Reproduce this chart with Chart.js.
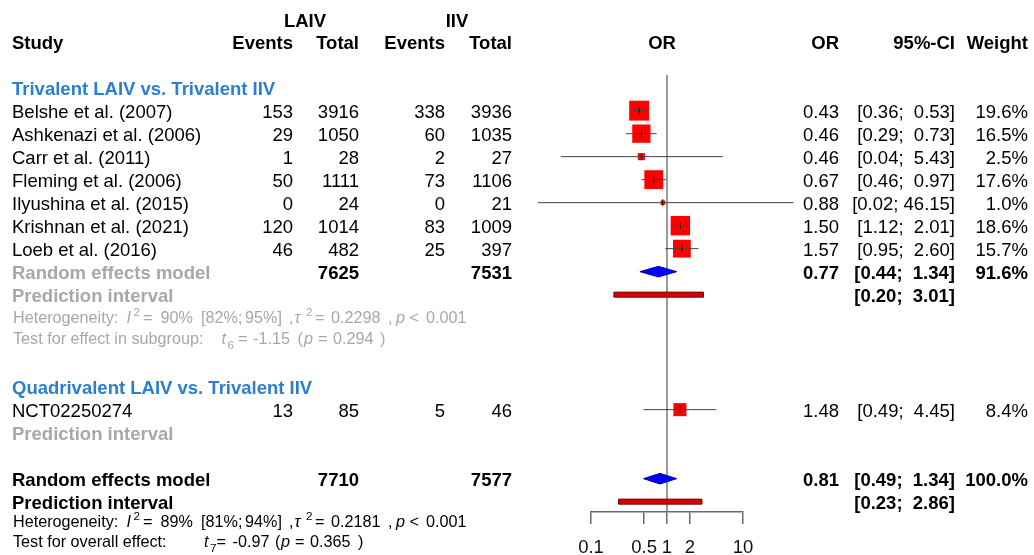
<!DOCTYPE html>
<html>
<head>
<meta charset="utf-8">
<script src="https://cdn.jsdelivr.net/npm/chart.js@4.4.1/dist/chart.umd.min.js"></script>
<style>
  html, body { margin: 0; padding: 0; background: #fff; }
  #c { display: block; }
</style>
</head>
<body>
<canvas id="c" width="1034" height="555"></canvas>
<script>
// ---- study-level data (odds ratio, 95% CI, random-effects weight) ----
const studies    = ['Belshe et al. (2007)', 'Ashkenazi et al. (2006)', 'Carr et al. (2011)', 'Fleming et al. (2006)',
                    'Ilyushina et al. (2015)', 'Krishnan et al. (2021)', 'Loeb et al. (2016)', 'NCT02250274'];
const studyRows  = [0, 1, 2, 3, 4, 5, 6, 13];
const laivEvents = [153, 29, 1, 50, 0, 120, 46, 13];
const laivTotal  = [3916, 1050, 28, 1111, 24, 1014, 482, 85];
const iivEvents  = [338, 60, 2, 73, 0, 83, 25, 5];
const iivTotal   = [3936, 1035, 27, 1106, 21, 1009, 397, 46];
const orValue    = [0.43, 0.46, 0.46, 0.67, 0.88, 1.50, 1.57, 1.48];
const ciLower    = [0.36, 0.29, 0.04, 0.46, 0.02, 1.12, 0.95, 0.49];
const ciUpper    = [0.53, 0.73, 5.43, 0.97, 46.15, 2.01, 2.60, 4.45];
const weights    = [19.6, 16.5, 2.5, 17.6, 1.0, 18.6, 15.7, 8.4];

// ---- subgroups ----
const subgroupNames = ['Trivalent LAIV vs. Trivalent IIV', 'Quadrivalent LAIV vs. Trivalent IIV'];
const subgroupRows  = [-1, 12];

// ---- pooled random-effects estimates (subgroup 1, overall) ----
const pooledRows      = [7, 16];
const pooledOR        = [0.77, 0.81];
const pooledLower     = [0.44, 0.49];
const pooledUpper     = [1.34, 1.34];
const pooledWeight    = [91.6, 100.0];
const pooledLaivTotal = [7625, 7710];
const pooledIivTotal  = [7531, 7577];

// ---- prediction intervals ----
const predRows  = [8, 17];
const predLower = [0.20, 0.23];
const predUpper = [3.01, 2.86];

// ---- heterogeneity and test statistics (subgroup 1, overall) ----
const hetI2     = ['90%', '89%'];
const hetI2CI   = [['82%', '95%'], ['81%', '94%']];
const hetTau2   = ['0.2298', '0.2181'];
const hetP      = ['0.001', '0.001'];
const testDf    = ['6', '7'];
const testT     = ['-1.15', '-0.97'];
const testP     = ['0.294', '0.365'];

// ---- axis ----
const axisTicks      = [0.1, 0.5, 1, 2, 10];
const axisTickLabels = ['0.1', '0.5', '1', '2', '10'];

// ---- styling ----
const FONT = '"Liberation Sans", Arial, Helvetica, sans-serif';
const FS = 18.5, FS_SMALL = 16.2;
const BLUE = '#2a7fd0', GRAY = '#a8a8a8', BLACK = '#000';
const COL = { study: 12, laivEv: 293, laivTot: 359, iivEv: 445, iivTot: 512,
              plotHead: 662, or: 839, ci: 955, wt: 1028 };
const Y_TOP = -1.55, Y_BOTTOM = 17.45;

const fmt2 = v => v.toFixed(2);
const ciText = (lo, hi) => '[' + fmt2(lo) + '; ' + fmt2(hi).padStart(5, ' ') + ']';

// ---- datasets ----
const datasets = [];

// point-estimate ticks inside the squares
datasets.push({
  type: 'scatter', order: 0,
  data: studyRows.map((r, i) => ({ x: orValue[i], y: r })),
  pointStyle: 'line', rotation: 90, pointRadius: 3.5,
  borderColor: '#111', borderWidth: 1
});

// confidence-interval whiskers
const ciData = [];
studyRows.forEach((r, i) => {
  ciData.push({ x: ciLower[i], y: r }, { x: ciUpper[i], y: r }, { x: null, y: null });
});
datasets.push({
  type: 'line', order: 1, data: ciData, showLine: true, spanGaps: false,
  borderColor: '#444', borderWidth: 1, pointRadius: 0, clip: false
});

// weight-scaled squares
datasets.push({
  type: 'scatter', order: 2,
  data: studyRows.map((r, i) => ({ x: orValue[i], y: r })),
  pointStyle: 'rect',
  pointRadius: weights.map(w => 4.5 * Math.sqrt(w) / Math.SQRT2),
  backgroundColor: '#ff0000', borderWidth: 0
});

// pooled-effect diamonds
pooledRows.forEach((r, i) => {
  datasets.push({
    type: 'line', order: 3,
    data: [
      { x: pooledLower[i], y: r }, { x: pooledOR[i], y: r - 0.23 },
      { x: pooledUpper[i], y: r }, { x: pooledOR[i], y: r + 0.23 },
      { x: pooledLower[i], y: r }
    ],
    fill: 'shape', backgroundColor: '#0000ff', borderColor: '#0000a8',
    borderWidth: 1, pointRadius: 0, tension: 0
  });
});

// prediction-interval bars
predRows.forEach((r, i) => {
  datasets.push({
    type: 'line', order: 3,
    data: [
      { x: predLower[i], y: r - 0.11 }, { x: predUpper[i], y: r - 0.11 },
      { x: predUpper[i], y: r + 0.11 }, { x: predLower[i], y: r + 0.11 },
      { x: predLower[i], y: r - 0.11 }
    ],
    fill: 'shape', backgroundColor: '#d80000', borderColor: '#6e1010',
    borderWidth: 1, pointRadius: 0, tension: 0
  });
});

// line of no effect (OR = 1)
datasets.push({
  type: 'line', order: 5,
  data: [{ x: 1, y: Y_TOP }, { x: 1, y: Y_BOTTOM }],
  borderColor: '#7a7a7a', borderWidth: 1.5, pointRadius: 0, clip: false
});

// ---- table text drawn around the plot ----
function txt(ctx, s, x, y, align, weight, size, color) {
  ctx.font = (weight || 'normal') + ' ' + size + 'px ' + FONT;
  ctx.textAlign = align;
  ctx.fillStyle = color;
  ctx.fillText(s, x, y);
}
// rich text: runs placed at given x, with optional italic / super / subscript
function runs(ctx, y, list, size, color) {
  let cx = 0;
  list.forEach(r => {
    if (r.x !== undefined) cx = r.x;
    const fs = (r.sup || r.sub) ? size * 0.72 : size;
    const dy = r.sup ? -size * 0.42 : (r.sub ? size * 0.3 : 0);
    ctx.font = (r.it ? 'italic ' : '') + fs + 'px ' + FONT;
    ctx.textAlign = 'left';
    ctx.fillStyle = color;
    ctx.fillText(r.t, cx, y + dy);
    cx += ctx.measureText(r.t).width;
  });
}
function hetRuns(k) {
  return [
    { t: 'Heterogeneity:', x: 13 }, { t: 'I', it: true, x: 126.5 }, { t: '2', sup: true, x: 133.5 },
    { t: '=', x: 143 }, { t: hetI2[k], x: 160.5 }, { t: '[' + hetI2CI[k][0] + ';', x: 201 },
    { t: hetI2CI[k][1] + ']', x: 245 }, { t: ',', x: 289 }, { t: 'τ', it: true, x: 294.5 },
    { t: '2', sup: true, x: 306 }, { t: '=', x: 315 }, { t: hetTau2[k], x: 331 },
    { t: ',', x: 388 }, { t: 'p', it: true, x: 396 }, { t: '<', x: 409.5 }, { t: hetP[k], x: 426 }
  ];
}

const tablePlugin = {
  id: 'forestTable',
  afterDraw(chart) {
    const ctx = chart.ctx;
    const ys = chart.scales.y;
    const base = row => ys.getPixelForValue(row) + 7;         // baseline for body text
    const baseS = row => ys.getPixelForValue(row) + 5.5;      // baseline for small text
    ctx.save();
    ctx.textBaseline = 'alphabetic';

    // column headers
    txt(ctx, 'LAIV', 305, base(-3.95), 'center', 'bold', FS, BLACK);
    txt(ctx, 'IIV', 457, base(-3.95), 'center', 'bold', FS, BLACK);
    const h = base(-3);
    txt(ctx, 'Study', COL.study, h, 'left', 'bold', FS, BLACK);
    txt(ctx, 'Events', COL.laivEv, h, 'right', 'bold', FS, BLACK);
    txt(ctx, 'Total', COL.laivTot, h, 'right', 'bold', FS, BLACK);
    txt(ctx, 'Events', COL.iivEv, h, 'right', 'bold', FS, BLACK);
    txt(ctx, 'Total', COL.iivTot, h, 'right', 'bold', FS, BLACK);
    txt(ctx, 'OR', COL.plotHead, h, 'center', 'bold', FS, BLACK);
    txt(ctx, 'OR', COL.or, h, 'right', 'bold', FS, BLACK);
    txt(ctx, '95%-CI', COL.ci, h, 'right', 'bold', FS, BLACK);
    txt(ctx, 'Weight', COL.wt, h, 'right', 'bold', FS, BLACK);

    // subgroup titles
    subgroupNames.forEach((s, i) => txt(ctx, s, COL.study, base(subgroupRows[i]), 'left', 'bold', FS, BLUE));

    // study rows
    studies.forEach((s, i) => {
      const y = base(studyRows[i]);
      txt(ctx, s, COL.study, y, 'left', 'normal', FS, BLACK);
      txt(ctx, String(laivEvents[i]), COL.laivEv, y, 'right', 'normal', FS, BLACK);
      txt(ctx, String(laivTotal[i]), COL.laivTot, y, 'right', 'normal', FS, BLACK);
      txt(ctx, String(iivEvents[i]), COL.iivEv, y, 'right', 'normal', FS, BLACK);
      txt(ctx, String(iivTotal[i]), COL.iivTot, y, 'right', 'normal', FS, BLACK);
      txt(ctx, fmt2(orValue[i]), COL.or, y, 'right', 'normal', FS, BLACK);
      txt(ctx, ciText(ciLower[i], ciUpper[i]), COL.ci, y, 'right', 'normal', FS, BLACK);
      txt(ctx, weights[i].toFixed(1) + '%', COL.wt, y, 'right', 'normal', FS, BLACK);
    });

    // pooled rows
    pooledRows.forEach((r, i) => {
      const y = base(r);
      txt(ctx, 'Random effects model', COL.study, y, 'left', 'bold', FS, i === 0 ? GRAY : BLACK);
      txt(ctx, String(pooledLaivTotal[i]), COL.laivTot, y, 'right', 'bold', FS, BLACK);
      txt(ctx, String(pooledIivTotal[i]), COL.iivTot, y, 'right', 'bold', FS, BLACK);
      txt(ctx, fmt2(pooledOR[i]), COL.or, y, 'right', 'bold', FS, BLACK);
      txt(ctx, ciText(pooledLower[i], pooledUpper[i]), COL.ci, y, 'right', 'bold', FS, BLACK);
      txt(ctx, pooledWeight[i].toFixed(1) + '%', COL.wt, y, 'right', 'bold', FS, BLACK);
    });

    // prediction interval rows
    predRows.forEach((r, i) => {
      const y = base(r);
      txt(ctx, 'Prediction interval', COL.study, y, 'left', 'bold', FS, i === 0 ? GRAY : BLACK);
      txt(ctx, ciText(predLower[i], predUpper[i]), COL.ci, y, 'right', 'bold', FS, BLACK);
    });
    txt(ctx, 'Prediction interval', COL.study, base(14), 'left', 'bold', FS, GRAY);

    // heterogeneity and tests
    runs(ctx, baseS(9), hetRuns(0), FS_SMALL, GRAY);
    runs(ctx, baseS(9.92), [
      { t: 'Test for effect in subgroup:', x: 13 }, { t: 't', it: true, x: 221.5 },
      { t: testDf[0], sub: true, x: 227.5 }, { t: '=', x: 238 }, { t: testT[0], x: 253 },
      { t: '(', x: 297.5 }, { t: 'p', it: true, x: 304 }, { t: '=', x: 318 },
      { t: testP[0], x: 333 }, { t: ')', x: 380 }
    ], FS_SMALL, GRAY);
    runs(ctx, baseS(17.86), hetRuns(1), FS_SMALL, BLACK);
    runs(ctx, baseS(18.75), [
      { t: 'Test for overall effect:', x: 13 }, { t: 't', it: true, x: 204 },
      { t: testDf[1], sub: true, x: 210 }, { t: '=', x: 216.5 }, { t: testT[1], x: 232.5 },
      { t: '(', x: 275 }, { t: 'p', it: true, x: 281 }, { t: '=', x: 295 },
      { t: testP[1], x: 310 }, { t: ')', x: 358 }
    ], FS_SMALL, BLACK);

    ctx.restore();
  }
};

new Chart(document.getElementById('c'), {
  type: 'scatter',
  data: { datasets },
  options: {
    responsive: false,
    animation: false,
    events: [],
    layout: { padding: { left: 591, right: 291, top: 75, bottom: 0 } },
    plugins: { legend: { display: false }, tooltip: { enabled: false } },
    scales: {
      x: {
        type: 'logarithmic', min: 0.1, max: 10,
        afterBuildTicks: s => { s.ticks = axisTicks.map(v => ({ value: v })); },
        afterFit: s => { s.height = 43; },
        ticks: {
          autoSkip: false, maxRotation: 0, padding: 13, color: '#111',
          font: { family: FONT, size: FS },
          callback: (v, i) => axisTickLabels[i]
        },
        grid: { drawOnChartArea: false, drawTicks: true, tickLength: 12, color: '#6a6a6a', lineWidth: 1.5 },
        border: { display: true, color: '#6a6a6a', width: 1.5 }
      },
      y: { type: 'linear', reverse: true, min: Y_TOP, max: Y_BOTTOM, display: false }
    }
  },
  plugins: [tablePlugin]
});
</script>
</body>
</html>
